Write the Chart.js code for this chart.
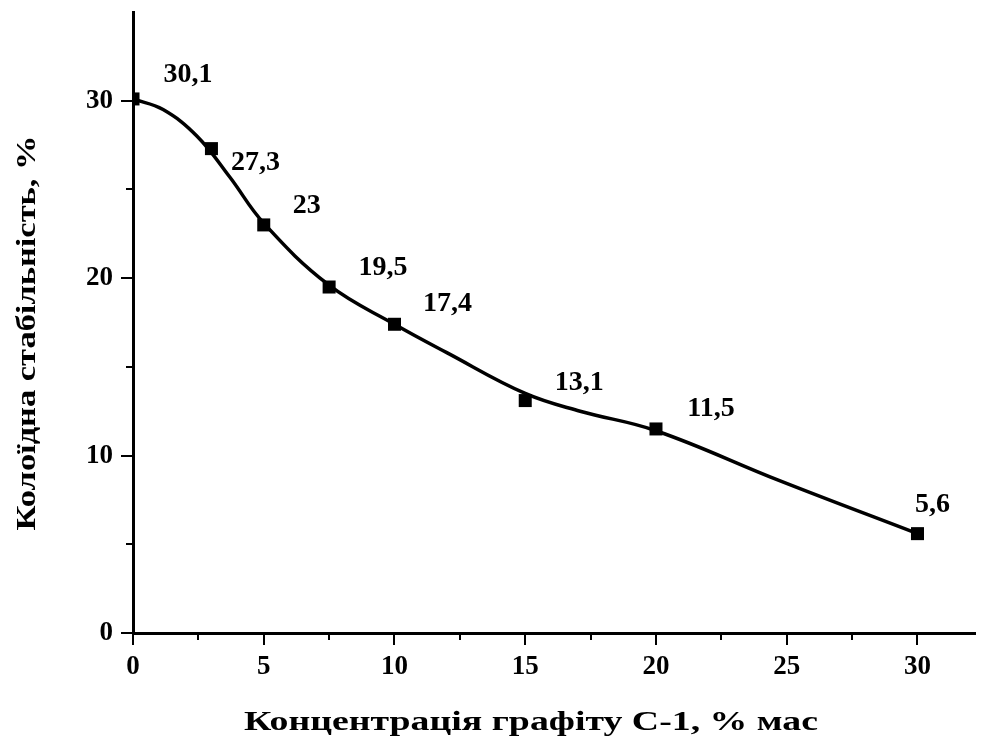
<!DOCTYPE html>
<html>
<head>
<meta charset="utf-8">
<script src="https://cdn.jsdelivr.net/npm/chart.js@4.4.1/dist/chart.umd.min.js"></script>
<style>
  html, body { margin: 0; padding: 0; background: #fff; }
  #wrap { width: 981px; height: 744px; }
</style>
</head>
<body>
<div id="wrap"><canvas id="stabCanvas" width="981" height="744"></canvas></div>
<script>
// measured points
const concentration = [0, 3, 5, 7.5, 10, 15, 20, 30];
const stability = [30.1, 27.3, 23, 19.5, 17.4, 13.1, 11.5, 5.6];
const pointLabels = ['30,1', '27,3', '23', '19,5', '17,4', '13,1', '11,5', '5,6'];

// fitted curve
const fitX = [0, 1.15, 2.45, 3.7, 5, 7.5, 10, 12, 15, 17.1, 20, 24.7, 30];
const fitY = [30.1, 29.5, 28.0, 25.7, 23.1, 19.6, 17.4, 15.8, 13.5, 12.5, 11.4, 8.6, 5.6];

const xTicks = [0, 5, 10, 15, 20, 25, 30];
const yTicks = [0, 10, 20, 30];
const xMinor = [2.5, 7.5, 12.5, 17.5, 22.5, 27.5];
const yMinor = [5, 15, 25];

const xTitle = 'Концентрація графіту С-1, % мас';
const yTitle = 'Колоїдна стабільність, %';

// where each value label sits relative to its point (px)
const labelOffsets = [[55, -24], [44, 14], [43, -19], [54, -19], [53, -21], [54, -18], [55, -20], [15, -29]];

const FONT = "'Liberation Serif', 'Times New Roman', serif";

const minorTicks = {
  id: 'minorTicks',
  afterDraw(chart) {
    const ctx = chart.ctx;
    const xs = chart.scales.x, ys = chart.scales.y;
    ctx.save();
    ctx.strokeStyle = '#000';
    ctx.lineWidth = 2;
    ctx.beginPath();
    xMinor.forEach(v => {
      const px = Math.round(xs.getPixelForValue(v));
      ctx.moveTo(px, ys.bottom);
      ctx.lineTo(px, ys.bottom + 7);
    });
    yMinor.forEach(v => {
      const py = Math.round(ys.getPixelForValue(v));
      ctx.moveTo(xs.left, py);
      ctx.lineTo(xs.left - 7, py);
    });
    ctx.stroke();
    ctx.restore();
  }
};

// axis titles: the original lettering is stretched along the text, so draw them by hand
const axisTitles = {
  id: 'axisTitles',
  afterDraw(chart) {
    const ctx = chart.ctx;
    ctx.save();
    ctx.fillStyle = '#000';
    ctx.font = 'bold 28px ' + FONT;
    ctx.textAlign = 'center';
    ctx.textBaseline = 'alphabetic';

    ctx.save();
    ctx.translate(531, 730);
    ctx.scale(1.35, 1);
    ctx.fillText(xTitle, 0, 0);
    ctx.restore();

    ctx.save();
    ctx.translate(35, 333);
    ctx.rotate(-Math.PI / 2);
    ctx.scale(1.23, 1);
    ctx.fillText(yTitle, 0, 0);
    ctx.restore();

    ctx.restore();
  }
};

const valueLabels = {
  id: 'valueLabels',
  afterDatasetsDraw(chart) {
    const ctx = chart.ctx;
    const meta = chart.getDatasetMeta(1);
    ctx.save();
    ctx.fillStyle = '#000';
    ctx.font = 'bold 28px ' + FONT;
    ctx.textAlign = 'center';
    ctx.textBaseline = 'middle';
    meta.data.forEach((pt, i) => {
      ctx.fillText(pointLabels[i], pt.x + labelOffsets[i][0], pt.y + labelOffsets[i][1]);
    });
    ctx.restore();
  }
};

new Chart(document.getElementById('stabCanvas'), {
  type: 'scatter',
  data: {
    datasets: [{
      label: 'fit',
      data: fitX.map((x, i) => ({ x: x, y: fitY[i] })),
      showLine: true,
      borderColor: '#000',
      borderWidth: 3.5,
      pointRadius: 0,
      tension: 0.4,
      fill: false
    }, {
      label: 'points',
      data: concentration.map((x, i) => ({ x: x, y: stability[i] })),
      pointStyle: 'rect',
      pointRadius: 9.2,
      pointHoverRadius: 9.2,
      backgroundColor: '#000',
      borderColor: '#000',
      borderWidth: 0
    }]
  },
  options: {
    responsive: false,
    animation: false,
    events: [],
    layout: { autoPadding: false, padding: { top: 12, right: 6, bottom: 0, left: 0 } },
    plugins: { legend: { display: false }, tooltip: { enabled: false } },
    scales: {
      x: {
        type: 'linear',
        min: 0,
        max: 32.2,
        afterBuildTicks: s => { s.ticks = xTicks.map(v => ({ value: v })); },
        afterFit: s => { s.height = 111; s.paddingLeft = 0; s.paddingRight = 0; },
        ticks: { color: '#000', font: { family: FONT, size: 27, weight: 'bold' }, padding: 6, maxRotation: 0 },
        grid: { drawOnChartArea: false, color: '#000', lineWidth: 2, tickLength: 12 },
        border: { color: '#000', width: 3 }
      },
      y: {
        type: 'linear',
        min: 0,
        max: 35,
        afterBuildTicks: s => { s.ticks = yTicks.map(v => ({ value: v })); },
        afterFit: s => { s.width = 133; s.paddingTop = 0; s.paddingBottom = 0; },
        ticks: { color: '#000', font: { family: FONT, size: 27, weight: 'bold' }, padding: 8 },
        grid: { drawOnChartArea: false, color: '#000', lineWidth: 2, tickLength: 12 },
        border: { color: '#000', width: 3 }
      }
    }
  },
  plugins: [minorTicks, axisTitles, valueLabels]
});
</script>
</body>
</html>
